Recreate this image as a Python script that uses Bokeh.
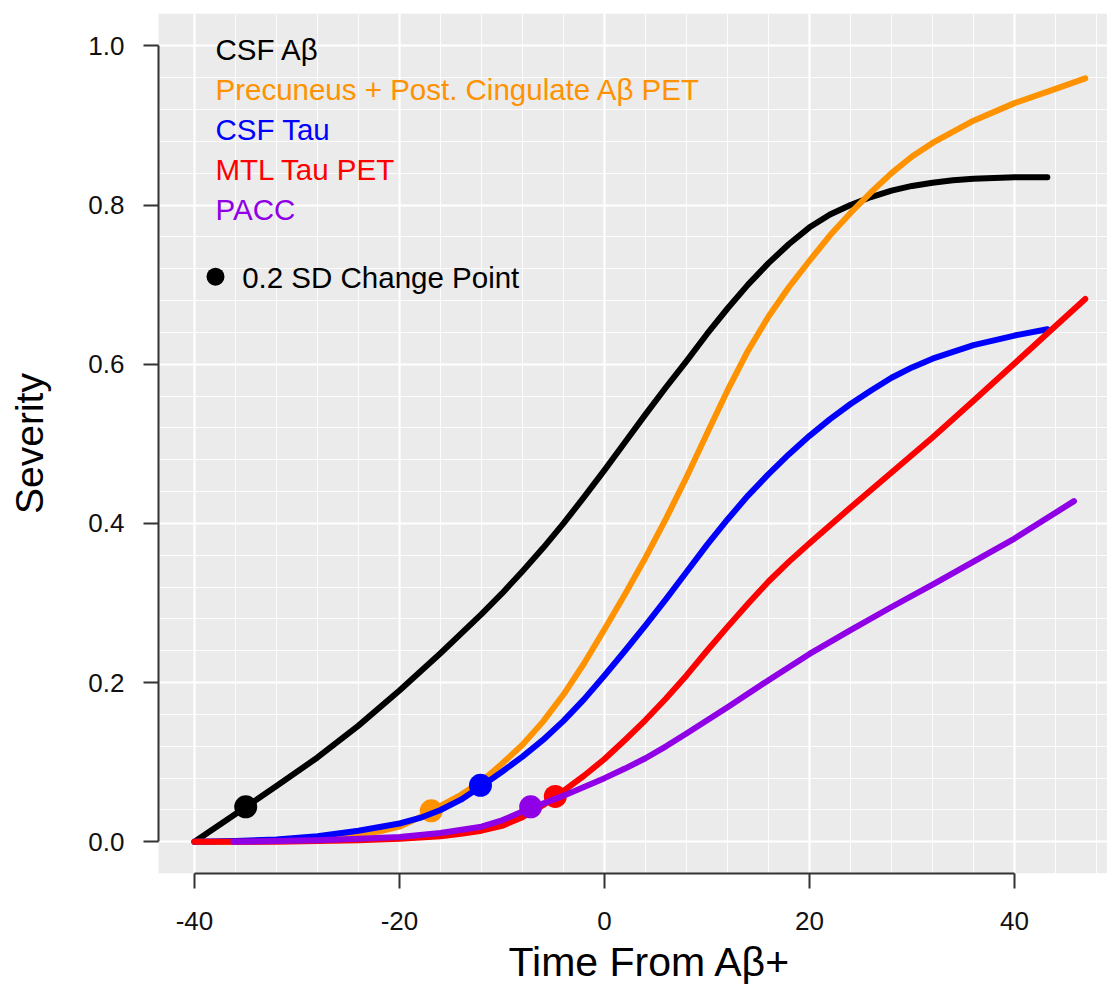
from bokeh.plotting import figure
from bokeh.models import Range1d, FixedTicker, Label, Title
from bokeh.embed import file_html
from bokeh.resources import INLINE

# ---------------- data ----------------
csf_ab_x = [-40, -36, -32, -28, -24, -20, -16, -12, -10, -8, -6, -4, -2, 0, 2, 4, 6, 8, 10, 12, 14, 16, 18, 20,
            22, 24, 26, 28, 30, 32, 34, 36, 40, 43.2]
csf_ab_y = [0.000, 0.035, 0.070, 0.106, 0.146, 0.190, 0.237, 0.286, 0.312, 0.340, 0.369, 0.400, 0.433, 0.467,
            0.502, 0.537, 0.571, 0.604, 0.638, 0.670, 0.700, 0.727, 0.751, 0.772, 0.788, 0.800, 0.810, 0.818,
            0.824, 0.828, 0.831, 0.833, 0.835, 0.835]

pet_ab_x = [-40, -36, -32, -28, -24, -22, -20, -18, -16, -14, -12, -10, -8, -6, -4, -2, 0, 2, 4, 6, 8, 10, 12,
            14, 16, 18, 20, 22, 24, 26, 28, 30, 32, 36, 40, 44, 46.9]
pet_ab_y = [0.000, 0.000, 0.001, 0.004, 0.010, 0.013, 0.019, 0.031, 0.045, 0.059, 0.076, 0.098, 0.122, 0.151,
            0.185, 0.224, 0.267, 0.311, 0.357, 0.406, 0.458, 0.513, 0.567, 0.617, 0.660, 0.697, 0.730, 0.762,
            0.790, 0.816, 0.840, 0.861, 0.878, 0.906, 0.928, 0.946, 0.959]

csf_tau_x = [-40, -36, -32, -28, -24, -20, -18, -16, -14, -12, -10, -8, -6, -4, -2, 0, 2, 4, 6, 8, 10, 12, 14,
             16, 18, 20, 22, 24, 26, 28, 30, 32, 36, 40, 43.2]
csf_tau_y = [0.000, 0.001, 0.003, 0.007, 0.014, 0.023, 0.030, 0.040, 0.053, 0.070, 0.088, 0.107, 0.128, 0.152,
             0.179, 0.209, 0.240, 0.272, 0.305, 0.339, 0.373, 0.405, 0.435, 0.462, 0.487, 0.510, 0.531, 0.550,
             0.567, 0.583, 0.596, 0.607, 0.624, 0.636, 0.644]

mtl_tau_x = [-40, -36, -32, -28, -24, -20, -16, -14, -12, -10, -8, -6, -4, -2, 0, 2, 4, 6, 8, 10, 12, 14, 16,
             18, 20, 24, 28, 32, 36, 40, 44, 46.9]
mtl_tau_y = [0.000, 0.000, 0.000, 0.001, 0.002, 0.004, 0.007, 0.010, 0.014, 0.020, 0.031, 0.046, 0.064, 0.083,
             0.104, 0.128, 0.153, 0.180, 0.209, 0.240, 0.270, 0.299, 0.327, 0.352, 0.375, 0.420, 0.464, 0.508,
             0.554, 0.601, 0.648, 0.682]

pacc_x = [-36.2, -32, -28, -24, -20, -16, -12, -10, -8, -6, -4, -2, 0, 2, 4, 6, 8, 12, 16, 20, 24, 28, 32, 36,
          40, 45.8]
pacc_y = [0.000, 0.001, 0.002, 0.004, 0.006, 0.011, 0.019, 0.027, 0.038, 0.048, 0.058, 0.069, 0.080, 0.092,
          0.105, 0.120, 0.136, 0.169, 0.203, 0.236, 0.266, 0.295, 0.323, 0.352, 0.381, 0.428]

# 0.2 SD change points (one per series, same order)
change_x = [-35.0, -16.9, -12.1, -4.8, -7.2]
change_y = [0.044, 0.039, 0.071, 0.057, 0.044]

series_names = ["CSF A\u03b2", "Precuneus + Post. Cingulate A\u03b2 PET", "CSF Tau", "MTL Tau PET", "PACC"]
series_colors = ["#000000", "#FF9200", "#0000FF", "#FF0000", "#8F00E6"]
change_label = "0.2 SD Change Point"
x_title = "Time From A\u03b2+"
y_title = "Severity"

x_ticks = [-40, -20, 0, 20, 40]
x_tick_labels = ["-40", "-20", "0", "20", "40"]
y_ticks = [0.0, 0.2, 0.4, 0.6, 0.8, 1.0]
y_tick_labels = ["0.0", "0.2", "0.4", "0.6", "0.8", "1.0"]

# ---------------- figure ----------------
XMIN, XMAX = -43.51, 49.07
YMIN, YMAX = -0.0398, 1.0406
FONT = "Liberation Sans"

p = figure(width=1107, height=994,
           x_range=Range1d(XMIN, XMAX), y_range=Range1d(YMIN, YMAX),
           output_backend="svg", toolbar_location=None,
           min_border_left=158, min_border_right=0, min_border_top=13, min_border_bottom=121)
p.background_fill_color = "#EBEBEB"
p.border_fill_color = "white"
p.outline_line_color = None

# grids
x_minor = [-44 + 4 * i for i in range(25)]
y_minor = [round(-0.04 + 0.04 * i, 2) for i in range(28)]
p.xgrid.ticker = FixedTicker(ticks=x_ticks, minor_ticks=x_minor)
p.ygrid.ticker = FixedTicker(ticks=y_ticks, minor_ticks=y_minor)
for g, b, cb in ((p.xgrid[0], (XMIN, XMAX), (YMIN, YMAX)), (p.ygrid[0], (YMIN, YMAX), (XMIN, XMAX))):
    g.bounds = b
    try:
        g.cross_bounds = cb
    except Exception:
        pass
    g.grid_line_color = "white"
    g.grid_line_width = 2.2
    g.minor_grid_line_color = "white"
    g.minor_grid_line_width = 1.1
    g.minor_grid_line_alpha = 0.85

# axes
for ax, ticks, labels, bnds in ((p.xaxis[0], x_ticks, x_tick_labels, (-40, 40)),
                                (p.yaxis[0], y_ticks, y_tick_labels, (0, 1))):
    ax.ticker = FixedTicker(ticks=ticks)
    ax.major_label_overrides = {t: l for t, l in zip(ticks, labels)}
    ax.bounds = bnds
    ax.axis_line_color = "#333333"
    ax.axis_line_width = 2
    ax.major_tick_line_color = "#333333"
    ax.major_tick_line_width = 2
    ax.major_tick_out = 15
    ax.major_tick_in = 0
    ax.minor_tick_out = 0
    ax.minor_tick_in = 0
    ax.major_label_text_font = FONT
    ax.major_label_text_font_size = "26px"
    ax.major_label_text_color = "#111111"
    ax.axis_label_text_font = FONT
    ax.axis_label_text_font_style = "normal"
    ax.axis_label_text_color = "black"

p.xaxis.major_label_standoff = 23

# x-axis title as a below-panel title, placed to match the reference
xt = Title(text=x_title, align="left", offset=350, text_font=FONT, text_font_size="41px",
           text_font_style="normal", text_color="black")
try:
    xt.standoff = 8
except Exception:
    pass
p.add_layout(xt, "below")

p.yaxis.axis_label = y_title
p.yaxis.axis_label_text_font_size = "39px"
p.yaxis.major_label_standoff = 19
p.yaxis.axis_label_standoff = 34

# curves (line then its change point, in drawing order)
curves = [(csf_ab_x, csf_ab_y), (pet_ab_x, pet_ab_y), (csf_tau_x, csf_tau_y),
          (mtl_tau_x, mtl_tau_y), (pacc_x, pacc_y)]
for (xs, ys), cx, cy, col in zip(curves, change_x, change_y, series_colors):
    p.line(xs, ys, line_color=col, line_width=6, line_cap="round", line_join="round")
    p.scatter([cx], [cy], size=23, fill_color=col, line_color=col, line_width=0)

# legend (text-only, coloured)
leg_x = -37.95
leg_y0 = 0.995
leg_dy = 0.0503
for i, (name, col) in enumerate(zip(series_names, series_colors)):
    p.add_layout(Label(x=leg_x, y=leg_y0 - i * leg_dy, text=name, text_color=col,
                       text_font=FONT, text_font_size="29.5px", text_baseline="alphabetic",
                       text_align="left"))
p.scatter([leg_x], [0.710], size=18, fill_color="black", line_color="black", line_width=0)
p.add_layout(Label(x=-35.35, y=0.709, text=change_label, text_color="black",
                   text_font=FONT, text_font_size="29.5px", text_baseline="alphabetic",
                   text_align="left"))

open("out.html", "w").write(file_html(p, INLINE))
